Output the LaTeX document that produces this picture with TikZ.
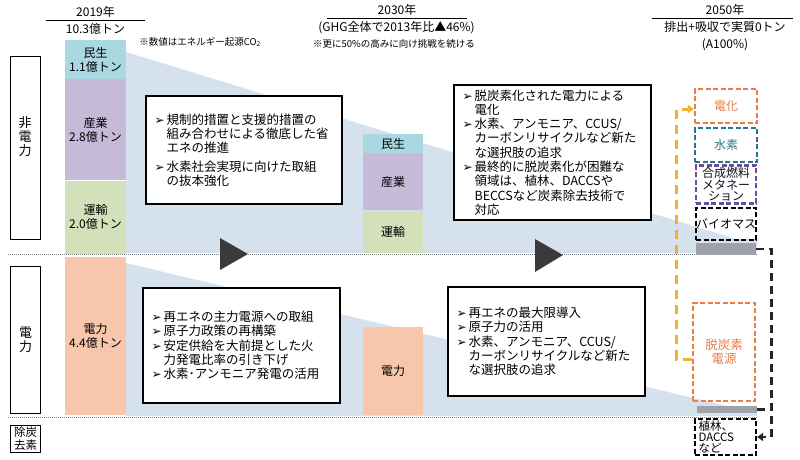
\documentclass[tikz,border=0pt]{standalone}
\usepackage{fontspec}
\setmainfont{Noto Sans CJK JP}
\newfontfamily\symfont{DejaVu Sans}
\usepackage{xcolor}
\usepackage{tikz}
\usetikzlibrary{arrows.meta,positioning}

\definecolor{minsei}{RGB}{170,216,224}
\definecolor{sangyo}{RGB}{197,186,216}
\definecolor{unyu}{RGB}{211,225,187}
\definecolor{denryoku}{RGB}{248,198,170}
\definecolor{wedgeblue}{RGB}{213,226,238}
\definecolor{orangeline}{RGB}{232,126,72}
\definecolor{tealline}{RGB}{40,118,140}
\definecolor{purpleline}{RGB}{104,78,158}
\definecolor{yellowline}{RGB}{240,176,48}
\definecolor{graybar}{RGB}{160,162,170}
\definecolor{darktri}{RGB}{58,58,58}

\newcommand{\bul}{{\symfont\fontsize{12}{12}\selectfont ➢}\hspace{2pt}}
\newcommand{\ind}{\hphantom{\bul}}

\tikzset{
  bar/.style={rectangle, inner sep=0pt, minimum width=61pt, align=center, font=\fontsize{12}{14}\selectfont},
  txtbox/.style={rectangle, draw, line width=1.3pt, fill=white, inner xsep=8pt, align=left, font=\fontsize{12.5}{14.3}\selectfont},
  labbox/.style={rectangle, draw, line width=1pt, inner sep=0pt, minimum width=30pt, align=center, font=\fontsize{13}{14}\selectfont},
  goalbox/.style={rectangle, dash pattern=on 5pt off 2.5pt, line width=2.2pt, inner sep=0pt, minimum width=61pt, align=center, font=\fontsize{12}{13}\selectfont},
  hdr/.style={font=\fontsize{12}{14}\selectfont, inner sep=0pt},
  note/.style={font=\fontsize{9.5}{11}\selectfont, inner sep=0pt},
  divider/.style={gray, line width=0.9pt, dash pattern=on 1pt off 1pt},
}

\begin{document}
\begin{tikzpicture}[x=1pt, y=-1pt]
  \useasboundingbox (0,0) rectangle (800,459);

  % shaded reduction areas
  \fill[wedgeblue] (126,52) -- (736,239) -- (757,239) -- (757,253) -- (126,253) -- cycle;
  \fill[wedgeblue] (126,263) -- (727,406) -- (757,406) -- (757,416) -- (126,416) -- cycle;

  % headers
  \node (hdr19) [hdr] at (95.5,12) {2019年};
  \node (tot19) [hdr] at (95.5,29) {10.3億トン};
  \draw[line width=0.8pt] (46,20) -- (145,20);
  \node (note19) [note] at (200,42) {※数値はエネルギー起源CO\textsubscript{2}};
  \node (hdr30) [hdr] at (397,10) {2030年};
  \draw[line width=0.8pt] (327,18) -- (467,18);
  \node (sub30) [hdr] at (396.5,28) {(GHG全体で2013年比▲46\%)};
  \node (note30) [note] at (394,44) {※更に50\%の高みに向け挑戦を続ける};
  \node (hdr50) [hdr] at (725,10) {2050年};
  \draw[line width=0.8pt] (652,18) -- (793,18);
  \node (sub50) [hdr] at (725,27) {排出+吸収で実質0トン};
  \node (pct50) [hdr] at (725,45) {(A100\%)};

  % row labels
  \node (labhi) [labbox, minimum height=183pt, label={[align=center, font=\fontsize{13}{14}\selectfont, yshift=10.5pt]center:非\\電\\力}] at (25,147.5) {};
  \node (labden) [labbox, minimum height=147pt] at (25.5,339.5) {電\\力};
  \node (labjo) [labbox, minimum height=27pt, font=\fontsize{11.5}{12.5}\selectfont] at (25.5,438.5) {除炭\\去素};

  % 2019 bars
  \node (min19) [bar, fill=minsei, minimum height=39pt] at (95.5,59.5) {民生\\1.1億トン};
  \node (san19) [bar, fill=sangyo, minimum height=101pt, below=0pt of min19] {産業\\2.8億トン};
  \node (un19) [bar, fill=unyu, minimum height=73pt, below=0pt of san19] {運輸\\2.0億トン};
  \node (den19) [bar, fill=denryoku, minimum height=158pt] at (95.5,336) {電力\\4.4億トン};

  % 2030 bars
  \node (min30) [bar, fill=minsei, minimum width=60pt, minimum height=19pt] at (393,143.5) {民生};
  \node (san30) [bar, fill=sangyo, minimum width=60pt, minimum height=57pt, below=0pt of min30] {産業};
  \node (un30) [bar, fill=unyu, minimum width=60pt, minimum height=42pt, below=0pt of san30] {運輸};
  \node (den30) [bar, fill=denryoku, minimum width=60pt, minimum height=88pt] at (393,371) {電力};

  % dividers and arrows
  \draw[divider] (8,254) -- (757,254);
  \draw[divider] (8,417) -- (757,417);
  \fill[darktri] (220,238) -- (248,254) -- (220,270) -- cycle;
  \fill[darktri] (535,239) -- (563,255) -- (535,272) -- cycle;

  % measures
  \node (box19a) [txtbox, minimum width=196pt, text width=179pt, minimum height=108pt] at (244,150) {\bul 規制的措置と支援的措置の\\\ind 組み合わせによる徹底した省\\\ind エネの推進\\[4pt]\bul 水素社会実現に向けた取組\\\ind の抜本強化};
  \node (box30a) [txtbox, minimum width=197pt, text width=180pt, minimum height=135pt] at (552.5,152.5) {\bul 脱炭素化された電力による\\\ind 電化\\\bul 水素、アンモニア、CCUS/\\\ind カーボンリサイクルなど新た\\\ind な選択肢の追求\\\bul 最終的に脱炭素化が困難な\\\ind 領域は、植林、DACCSや\\\ind BECCSなど炭素除去技術で\\\ind 対応};
  \node (box19b) [txtbox, minimum width=197pt, text width=180pt, minimum height=115pt] at (241.5,345.5) {\bul 再エネの主力電源への取組\\\bul 原子力政策の再構築\\\bul 安定供給を大前提とした火\\\ind 力発電比率の引き下げ\\\bul 水素･アンモニア発電の活用};
  \node (box30b) [txtbox, minimum width=197pt, text width=180pt, minimum height=109pt] at (546.5,341.5) {\bul 再エネの最大限導入\\\bul 原子力の活用\\\bul 水素、アンモニア、CCUS/\\\ind カーボンリサイクルなど新た\\\ind な選択肢の追求};

  % 2050
  \node (denka) [goalbox, draw=orangeline, text=orangeline, minimum width=62pt, minimum height=34pt] at (726,106) {電化};
  \node (suiso) [goalbox, draw=tealline, text=tealline, minimum width=62pt, minimum height=34pt, below=3pt of denka] {水素};
  \node (gosei) [goalbox, draw=purpleline, text=black!80!purpleline, minimum width=60pt, minimum height=38pt, font=\fontsize{12}{11.5}\selectfont, below=1pt of suiso] {合成燃料\\メタネー\\ション};
  \node (bio) [goalbox, draw=black, minimum width=60pt, minimum height=32pt, below=2pt of gosei] {バイオマス};
  \node (gbar1) [rectangle, fill=graybar, inner sep=0pt, minimum width=60pt, minimum height=12pt, below=2pt of bio] {};
  \node (dtsn) [goalbox, draw=orangeline, text=orangeline, minimum width=62pt, minimum height=98pt, font=\fontsize{12.5}{14}\selectfont] at (724,352) {脱炭素\\電源};
  \node (gbar2) [rectangle, fill=graybar, inner sep=0pt, minimum width=60pt, minimum height=7pt] at (727,409.5) {};
  \node (shoku) [goalbox, draw=black, minimum width=61pt, minimum height=36pt, text width=54pt, align=left, font=\fontsize{11.5}{11.3}\selectfont] at (725.5,437) {植林、\\DACCS\\など};

  \draw[yellowline, line width=3pt, dash pattern=on 9pt off 6pt, -{Triangle[width=8pt,length=6pt]}] ([yshift=-7pt]dtsn.west) -- ++(-15,0) |- ([yshift=-3pt]denka.west);
  \draw[black!85, line width=2.6pt, dash pattern=on 8pt off 5pt, -{Triangle[width=8pt,length=6pt]}] (gbar1.east) -- ++(15,0) |- (shoku.east);
  \draw[black!85, line width=2.6pt, dash pattern=on 8pt off 5pt] (gbar2.east) -- ++(15,0);
\end{tikzpicture}
\end{document}
